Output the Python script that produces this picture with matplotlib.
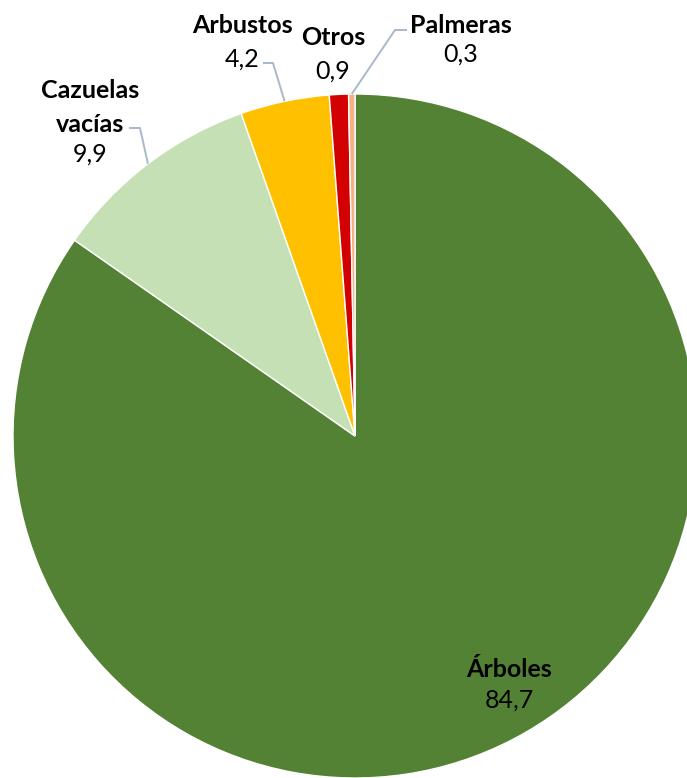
import numpy as np
import matplotlib
matplotlib.use("Agg")
import matplotlib.pyplot as plt

categories = ["Árboles", "Cazuelas\nvacías", "Arbustos", "Otros", "Palmeras"]
values = [84.7, 9.9, 4.2, 0.9, 0.3]
value_labels = ["84,7", "9,9", "4,2", "0,9", "0,3"]
colors = ["#548235", "#C5E0B4", "#FFC000", "#D20000", "#F4B183"]

W, H = 687, 778
fig = plt.figure(figsize=(W / 100, H / 100), dpi=100)
ax = fig.add_axes([0, 0, 1, 1])

cx, cy, R = 355, 342, 342
ax.pie(values, colors=colors, startangle=90, counterclock=False,
       center=(cx, cy), radius=R,
       wedgeprops=dict(edgecolor="white", linewidth=1))
ax.set_xlim(0, W)
ax.set_ylim(0, H)
ax.set_aspect("equal")
ax.axis("off")

plt.rcParams["font.family"] = ["Lato", "DejaVu Sans"]
fs = 18

# mid angles of wedges
tot = sum(values)
ends = 90 - 360 * np.cumsum(values) / tot
starts = np.concatenate([[90], ends[:-1]])
mids = np.radians((starts + ends) / 2)

# label layout: x center, baselines of name lines (from top), baseline of value, leader elbow
layout = {
    0: dict(x=509, yn=[677], yv=708, line=None),
    1: dict(x=90, yn=[98, 132], yv=162, line=[(129, 128), (140, 128)]),
    2: dict(x=242, yn=[33], yv=67, line=[(263, 63), (273, 63)]),
    3: dict(x=333, yn=[45], yv=79, line=None),
    4: dict(x=461, yn=[33], yv=62, line=[(407, 30), (395, 30)]),
}

for i, cat in enumerate(categories):
    L = layout[i]
    for line_txt, yb in zip(cat.split("\n"), L["yn"]):
        ax.text(L["x"], H - yb, line_txt, ha="center", va="baseline",
                fontsize=fs, fontweight="bold", color="#000000")
    ax.text(L["x"], H - L["yv"], value_labels[i], ha="center", va="baseline",
            fontsize=fs, color="#000000")
    if L["line"] is not None:
        px = cx + R * np.cos(mids[i])
        py = cy + R * np.sin(mids[i])
        (x0, y0), (x1, y1) = L["line"]
        ax.plot([x0, x1, px], [H - y0, H - y1, py], color="#A9B8CC",
                lw=1.4, solid_capstyle="butt", clip_on=False)

fig.savefig("out.png", dpi=100)
